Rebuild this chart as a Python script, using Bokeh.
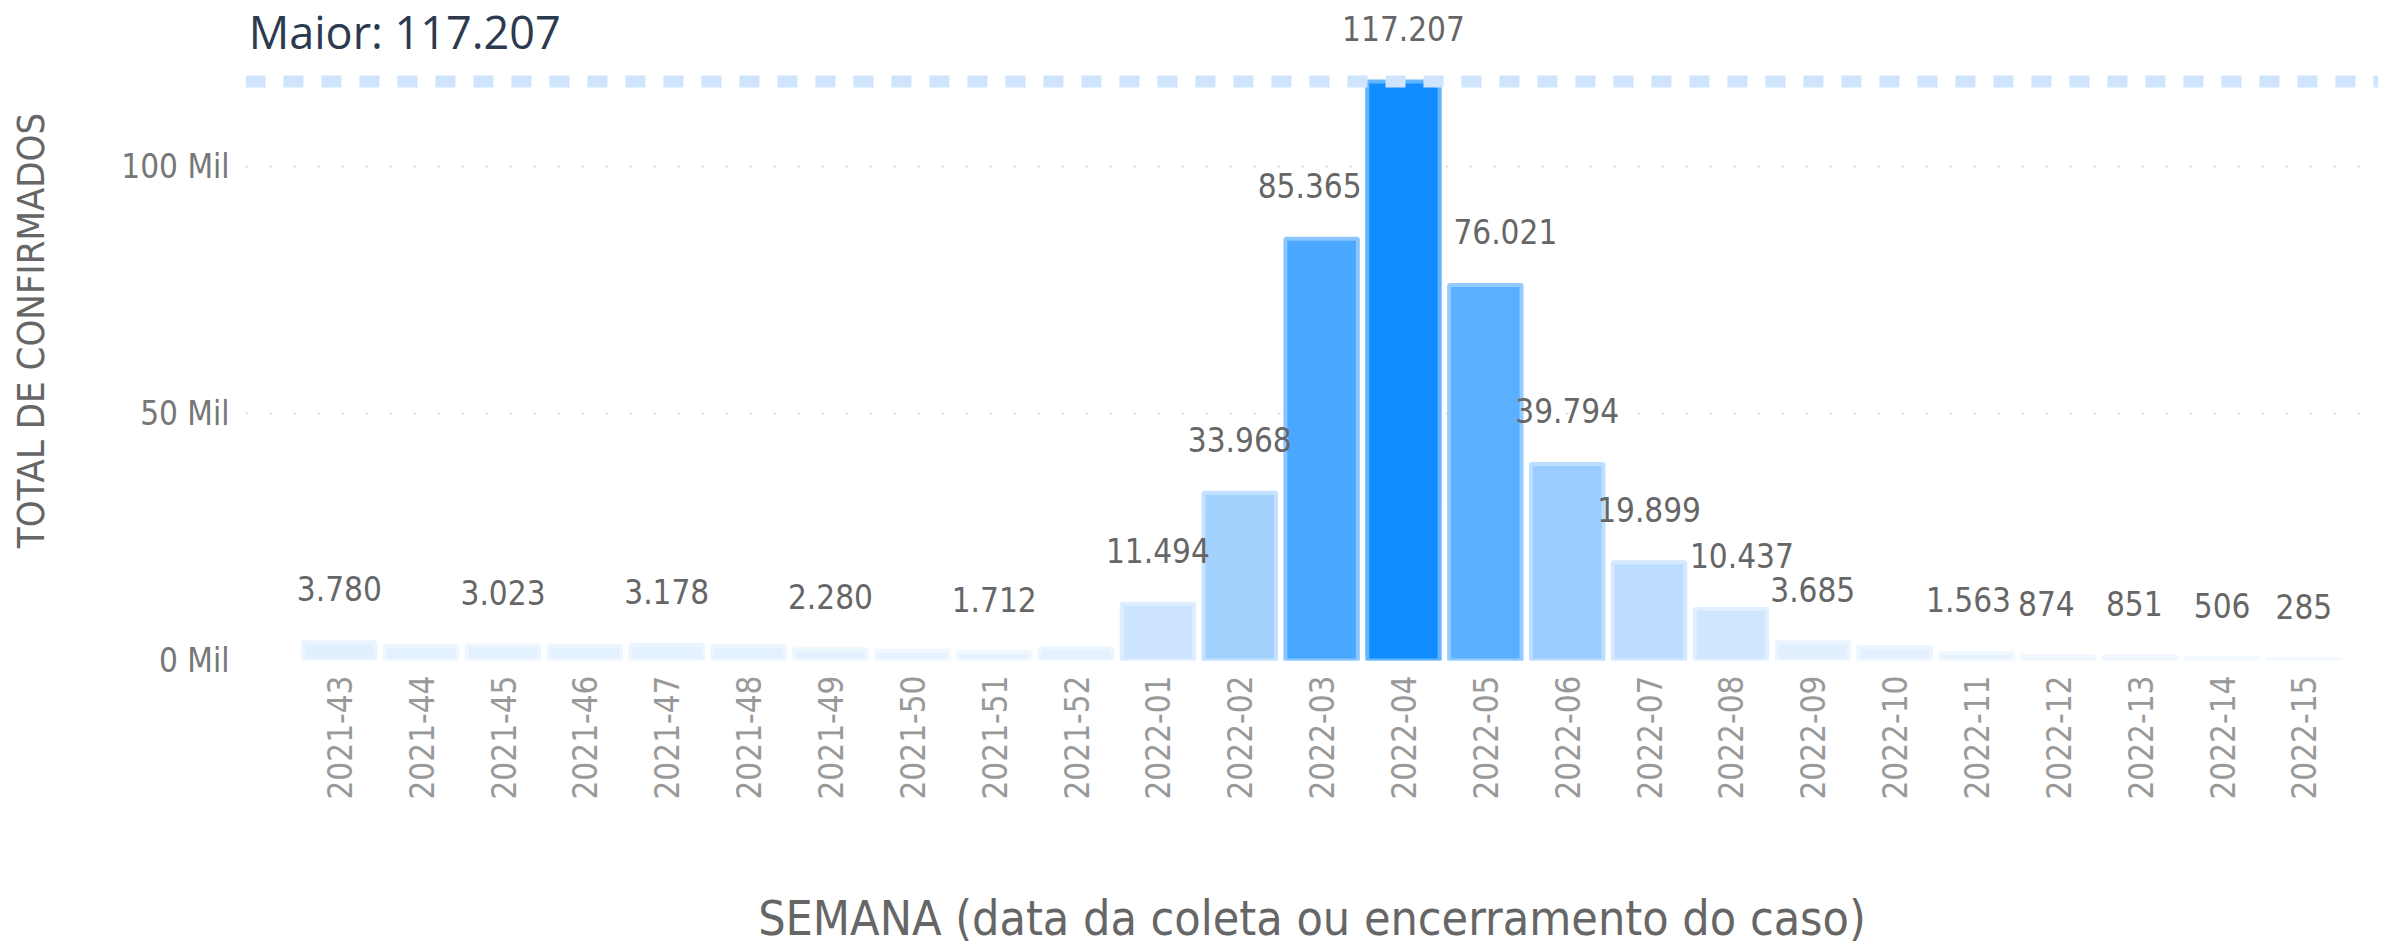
import math
from bokeh.plotting import figure
from bokeh.models import (ColumnDataSource, Range1d, FixedTicker, Span, Label)
from bokeh.core.properties import value
from bokeh.embed import file_html
from bokeh.resources import INLINE

# ---------------- data ----------------
weeks = ["2021-43", "2021-44", "2021-45", "2021-46", "2021-47", "2021-48",
         "2021-49", "2021-50", "2021-51", "2021-52", "2022-01", "2022-02",
         "2022-03", "2022-04", "2022-05", "2022-06", "2022-07", "2022-08",
         "2022-09", "2022-10", "2022-11", "2022-12", "2022-13", "2022-14",
         "2022-15"]
confirmed = [3780, 2900, 3023, 2950, 3178, 2950, 2280, 1950, 1712, 2500,
             11494, 33968, 85365, 117207, 76021, 39794, 19899, 10437,
             3685, 2750, 1563, 874, 851, 506, 285]
# which bars show a data label in the reference
labelled = [True, False, True, False, True, False, True, False, True, False,
            True, True, True, True, True, True, True, True,
            True, False, True, True, True, True, True]
y_ticks = [0, 50000, 100000]
y_tick_labels = ["0 Mil", "50 Mil", "100 Mil"]
max_label = "Maior: "
x_title = "SEMANA (data da coleta ou encerramento do caso)"
y_title = "TOTAL DE CONFIRMADOS"

TEXT = "#666666"
FONT = "DejaVu Sans Condensed"


def fmt(v):
    return f"{v:,}".replace(",", ".")


def hex2rgb(h):
    h = h.lstrip("#")
    return [int(h[i:i + 2], 16) for i in (0, 2, 4)]


def rgb2hex(c):
    return "#%02x%02x%02x" % tuple(int(round(x)) for x in c)


# gradient (conditional formatting) stops
vmin, vmax = min(confirmed), max(confirmed)
stops = [(vmin, hex2rgb("#eaf4ff")), (11494, hex2rgb("#cce4ff")), (vmax, hex2rgb("#118dff"))]


def colour(v):
    for (a, ca), (b, cb) in zip(stops[:-1], stops[1:]):
        if v <= b:
            t = (v - a) / (b - a)
            return rgb2hex([ca[k] + (cb[k] - ca[k]) * t for k in range(3)])
    return rgb2hex(stops[-1][1])


def lighten(h, f=0.35):
    c = hex2rgb(h)
    return rgb2hex([x + (255 - x) * f for x in c])


fills = [colour(v) for v in confirmed]
lines = [lighten(c) for c in fills]
idx = list(range(len(weeks)))

src = ColumnDataSource(dict(x=idx, top=confirmed, fill=fills, line=lines))

lab_x = [i for i in idx if labelled[i]]
lab_v = [confirmed[i] for i in idx if labelled[i]]
lab_t = [fmt(v) for v in lab_v]
# small collision shifts applied by the original renderer (pixels)
shift = {12: -12, 14: 20, 17: 11, 20: -8, 21: -12, 22: -6}
lab_dx = [shift.get(i, 0) for i in lab_x]
lab_src = ColumnDataSource(dict(x=lab_x, y=lab_v, t=lab_t, dx=lab_dx))

X0, X1 = -1.146, 24.911
Y1 = 133600

p = figure(width=2384, height=949, output_backend="svg", toolbar_location=None,
           x_range=Range1d(X0, X1), y_range=Range1d(0, Y1),
           min_border_left=245, min_border_right=6, min_border_top=0,
           min_border_bottom=289)
p.outline_line_color = None
p.background_fill_color = "white"
p.border_fill_color = "white"

p.vbar(x="x", top="top", bottom=0, width=0.885, source=src,
       fill_color="fill", line_color="line", line_width=4)

p.text(x="x", y="y", text="t", source=lab_src, x_offset="dx", y_offset=-53,
       text_align="center", text_baseline="middle",
       text_font=value(FONT), text_font_size="33px", text_color=TEXT)

# max constant line and its label
p.add_layout(Span(location=vmax, dimension="width", line_color="#cfe5fd",
                  line_width=12, line_dash="20 18"))
p.add_layout(Label(x=X0 + 0.04, y=vmax, y_offset=50,
                   text=max_label + fmt(vmax), text_font="Open Sans",
                   text_font_size="45px", text_color="#2b3a4f",
                   text_baseline="alphabetic", text_align="left"))

# axes
xa = p.xaxis[0]
xa.ticker = FixedTicker(ticks=idx)
xa.major_label_overrides = {i: w for i, w in zip(idx, weeks)}
xa.major_label_orientation = math.pi / 2
xa.major_label_text_font = FONT
xa.major_label_text_font_size = "33px"
xa.major_label_text_color = "#999999"
xa.major_label_standoff = 9
xa.axis_line_color = None
xa.major_tick_line_color = None
xa.minor_tick_line_color = None
xa.axis_label = x_title
xa.axis_label_text_font = FONT
xa.axis_label_text_font_style = "normal"
xa.axis_label_text_font_size = "48px"
xa.axis_label_text_color = TEXT
xa.axis_label_standoff = 87

ya = p.yaxis[0]
ya.ticker = FixedTicker(ticks=y_ticks)
ya.major_label_overrides = {t: l for t, l in zip(y_ticks, y_tick_labels)}
ya.major_label_text_font = FONT
ya.major_label_text_font_size = "33px"
ya.major_label_text_color = "#777777"
ya.major_label_standoff = 10
ya.axis_line_color = None
ya.major_tick_line_color = None
ya.minor_tick_line_color = None
ya.axis_label = y_title
ya.axis_label_text_font = FONT
ya.axis_label_text_font_style = "normal"
ya.axis_label_text_font_size = "38px"
ya.axis_label_text_color = TEXT
ya.axis_label_standoff = 65

p.xgrid.grid_line_color = None
p.ygrid.ticker = FixedTicker(ticks=y_ticks)
p.ygrid.grid_line_color = "#dedede"
p.ygrid.grid_line_width = 2
p.ygrid.grid_line_dash = "3 21"
p.ygrid.level = "underlay"

open("out.html", "w").write(file_html(p, INLINE))
